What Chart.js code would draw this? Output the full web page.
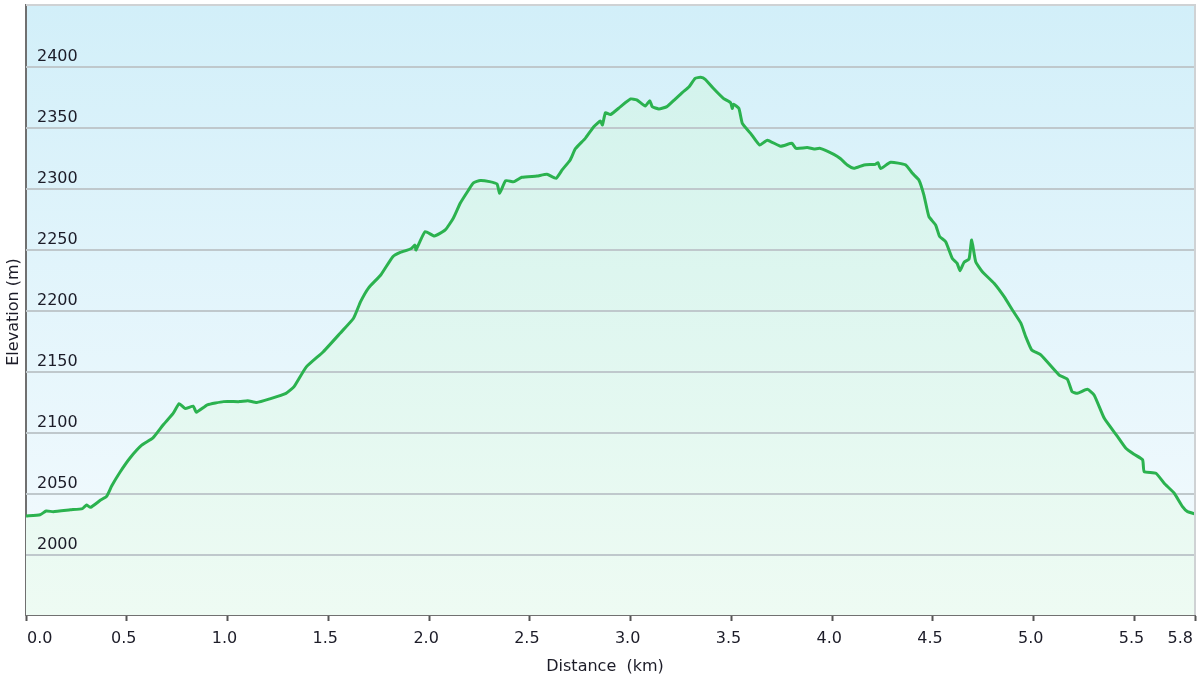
<!DOCTYPE html>
<html>
<head>
<meta charset="utf-8">
<script src="https://cdn.jsdelivr.net/npm/chart.js@4.4.1/dist/chart.umd.min.js"></script>
<style>
html,body{margin:0;padding:0;background:#ffffff;overflow:hidden;}
canvas{display:block;}
</style>
</head>
<body>
<canvas id="c" width="1200" height="675" style="width:1200px;height:675px;"></canvas>
<script>
// ---- data ----
const distanceKm = [0, 0.07, 0.10, 0.135, 0.22, 0.28, 0.30, 0.32, 0.37, 0.40, 0.425, 0.467, 0.516, 0.574, 0.63, 0.68, 0.73, 0.76, 0.79, 0.83, 0.845, 0.90, 0.98, 1.06, 1.10, 1.145, 1.21, 1.29, 1.33, 1.39, 1.475, 1.56, 1.625, 1.66, 1.70, 1.76, 1.82, 1.857, 1.91, 1.93, 1.935, 1.98, 2.026, 2.08, 2.12, 2.155, 2.195, 2.22, 2.254, 2.30, 2.337, 2.35, 2.38, 2.42, 2.46, 2.535, 2.585, 2.63, 2.66, 2.70, 2.726, 2.775, 2.817, 2.85, 2.86, 2.875, 2.90, 2.95, 3.0, 3.03, 3.073, 3.095, 3.107, 3.14, 3.18, 3.22, 3.256, 3.29, 3.32, 3.347, 3.37, 3.41, 3.46, 3.496, 3.504, 3.51, 3.537, 3.554, 3.595, 3.64, 3.678, 3.744, 3.80, 3.82, 3.876, 3.91, 3.94, 4.008, 4.04, 4.075, 4.108, 4.158, 4.215, 4.227, 4.24, 4.29, 4.364, 4.398, 4.43, 4.455, 4.48, 4.513, 4.533, 4.563, 4.596, 4.62, 4.634, 4.654, 4.679, 4.692, 4.712, 4.745, 4.803, 4.853, 4.894, 4.936, 4.96, 4.99, 5.035, 5.126, 5.167, 5.19, 5.216, 5.266, 5.30, 5.35, 5.416, 5.457, 5.498, 5.54, 5.548, 5.606, 5.647, 5.697, 5.738, 5.763, 5.80];
const elevationM = [2032, 2033, 2036, 2035.5, 2037, 2038, 2041, 2039, 2045, 2048, 2056.5, 2068, 2079.5, 2090, 2096, 2106.5, 2116, 2124, 2120, 2122, 2117, 2123, 2125.7, 2125.7, 2126.5, 2125, 2128, 2132.5, 2138, 2154, 2166.6, 2182, 2194, 2207.6, 2219, 2229.5, 2244.5, 2248, 2251, 2254, 2250, 2265, 2261.5, 2266.4, 2276, 2288.5, 2299, 2305, 2307, 2306, 2304, 2296.6, 2306.8, 2306, 2309.6, 2310.6, 2312, 2308.8, 2315.6, 2323.8, 2333, 2341.5, 2351, 2355.7, 2352.5, 2362.5, 2361, 2367.5, 2373.8, 2373, 2368, 2372.4, 2367.5, 2365.6, 2367.5, 2373.5, 2379, 2383.8, 2390.7, 2391.5, 2389.9, 2382.5, 2374.3, 2370.7, 2366, 2369.4, 2366, 2353.8, 2345.6, 2336, 2340, 2335, 2337.4, 2333.3, 2333.9, 2332.8, 2333.3, 2328.4, 2325, 2319.7, 2317, 2319.7, 2320.2, 2321.6, 2316.7, 2321.9, 2319.7, 2312.8, 2307.4, 2295, 2277.3, 2270.5, 2261, 2256.8, 2243, 2239, 2233, 2239.9, 2242.6, 2258.2, 2240.4, 2232.2, 2222.7, 2211.7, 2200.8, 2190, 2179, 2168, 2164, 2147.5, 2144, 2133.9, 2132.5, 2135.8, 2131, 2112, 2097, 2087.5, 2082.5, 2078, 2068.3, 2067, 2058.8, 2050.6, 2039.6, 2035.5, 2033.6];
const xTickValues = [0, 0.5, 1.0, 1.5, 2.0, 2.5, 3.0, 3.5, 4.0, 4.5, 5.0, 5.5, 5.8];
const yTickValues = [2000, 2050, 2100, 2150, 2200, 2250, 2300, 2350, 2400];
const xTitle = 'Distance  (km)';
const yTitle = 'Elevation (m)';

const FONT = '"DejaVu Sans", Verdana, sans-serif';
const TEXT = '#1c1c28';
const points = distanceKm.map((d, i) => ({x: d, y: elevationM[i]}));

const framePlugin = {
  id: 'frame',
  beforeDraw(chart) {
    const {ctx, chartArea: a} = chart;
    const g = ctx.createLinearGradient(0, a.top, 0, a.bottom);
    g.addColorStop(0, 'rgb(210,239,249)');
    g.addColorStop(1, 'rgb(245,251,254)');
    ctx.save();
    ctx.fillStyle = g;
    ctx.fillRect(a.left, a.top, a.right - a.left, a.bottom - a.top);
    ctx.restore();
  },
  // after the area fill, before the line: horizontal grid lines + y labels
  beforeDatasetDraw(chart) {
    const {ctx, chartArea: a} = chart;
    const ys = chart.scales.y;
    ctx.save();
    ctx.strokeStyle = '#bfc8cc';
    ctx.lineWidth = 2;
    yTickValues.forEach(v => {
      const py = Math.round(ys.getPixelForValue(v));
      ctx.beginPath();
      ctx.moveTo(a.left, py);
      ctx.lineTo(a.right, py);
      ctx.stroke();
    });
    ctx.fillStyle = TEXT;
    ctx.font = '16px ' + FONT;
    ctx.textAlign = 'left';
    ctx.textBaseline = 'alphabetic';
    yTickValues.forEach(v => {
      const py = ys.getPixelForValue(v);
      ctx.fillText(String(v), a.left + 11, py - 6);
    });
    ctx.restore();
  },
  afterDraw(chart) {
    const {ctx, chartArea: a} = chart;
    ctx.save();
    // top and right light border
    ctx.strokeStyle = '#cfd2d4';
    ctx.lineWidth = 2;
    ctx.beginPath();
    ctx.moveTo(a.left, a.top);
    ctx.lineTo(a.right, a.top);
    ctx.lineTo(a.right, a.bottom);
    ctx.stroke();
    // x tick labels
    const xs = chart.scales.x;
    ctx.fillStyle = TEXT;
    ctx.font = '16px ' + FONT;
    ctx.textBaseline = 'alphabetic';
    xTickValues.forEach((v, i) => {
      const px = xs.getPixelForValue(v);
      const label = v.toFixed(1);
      if (i === 0) { ctx.textAlign = 'left'; ctx.fillText(label, px + 1, 643); }
      else if (i === xTickValues.length - 1) { ctx.textAlign = 'right'; ctx.fillText(label, px - 2, 643); }
      else { ctx.textAlign = 'center'; ctx.fillText(label, px - 3, 643); }
    });
    // axis titles
    ctx.textAlign = 'center';
    ctx.fillText(xTitle, 605, 671);
    ctx.translate(18, 312);
    ctx.rotate(-Math.PI / 2);
    ctx.fillText(yTitle, 0, 0);
    ctx.restore();
  }
};

function fillGradient(context) {
  const chart = context.chart;
  const a = chart.chartArea;
  if (!a) return 'rgb(225,247,238)';
  const g = chart.ctx.createLinearGradient(0, a.top, 0, a.bottom);
  g.addColorStop(0, 'rgb(208,242,236)');
  g.addColorStop(1, 'rgb(238,251,243)');
  return g;
}

new Chart(document.getElementById('c'), {
  type: 'line',
  data: {
    datasets: [{
      data: points,
      borderColor: '#2bb24f',
      borderWidth: 3,
      backgroundColor: fillGradient,
      fill: 'start',
      pointRadius: 0,
      tension: 0.15
    }]
  },
  options: {
    responsive: false,
    animation: false,
    devicePixelRatio: 1,
    layout: {padding: {left: 26, right: 5, top: 5, bottom: 54}},
    plugins: {legend: {display: false}, tooltip: {enabled: false}},
    scales: {
      x: {
        type: 'linear',
        min: 0,
        max: 5.8,
        afterBuildTicks: s => { s.ticks = xTickValues.map(v => ({value: v})); },
        ticks: {display: false},
        grid: {display: true, drawOnChartArea: false, drawTicks: true, tickLength: 6, tickColor: '#555', tickWidth: 2},
        border: {display: true, color: '#707070', width: 2}
      },
      y: {
        type: 'linear',
        min: 1950.8,
        max: 2450.8,
        afterBuildTicks: s => { s.ticks = yTickValues.map(v => ({value: v})); },
        ticks: {display: false},
        grid: {display: false, drawTicks: false},
        border: {display: true, color: '#707070', width: 2}
      }
    }
  },
  plugins: [framePlugin]
});
</script>
</body>
</html>
